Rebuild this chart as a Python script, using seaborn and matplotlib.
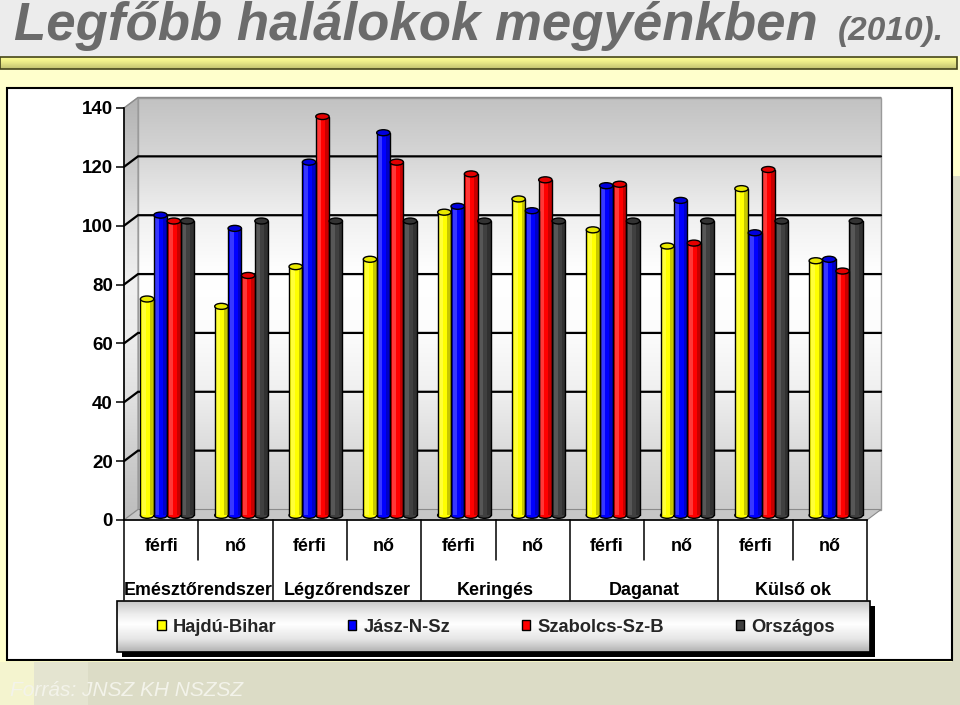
import numpy as np
import pandas as pd
import matplotlib
matplotlib.use("Agg")
import matplotlib.pyplot as plt
import matplotlib.transforms as mtrans
from matplotlib.patches import Rectangle, Ellipse, Polygon
import seaborn as sns

# ---------------- data ----------------
causes = ["Emésztőrendszer", "Légzőrendszer", "Keringés", "Daganat", "Külső ok"]
sexes = ["férfi", "nő"]
series_names = ["Hajdú-Bihar", "Jász-N-Sz", "Szabolcs-Sz-B", "Országos"]
hajdu_bihar = [73.5, 71.0, 84.5, 87.0, 103.0, 107.5, 97.0, 91.5, 111.0, 86.5]
jasz_n_sz = [102.0, 97.5, 120.0, 130.0, 105.0, 103.5, 112.0, 107.0, 96.0, 87.0]
szabolcs_sz_b = [100.0, 81.5, 135.5, 120.0, 116.0, 114.0, 112.5, 92.5, 117.5, 83.0]
orszagos = [100, 100, 100, 100, 100, 100, 100, 100, 100, 100]
y_ticks = [0, 20, 40, 60, 80, 100, 120, 140]
title_main = "Legfőbb halálokok megyénkben"
title_year = "(2010)."
source_note = "Forrás: JNSZ KH NSZSZ"

bar_colors = ["#ffff00", "#0000ff", "#ff0000", "#404040"]
top_colors = ["#e8e800", "#0000dc", "#e40000", "#333333"]

groups = [f"{c} {s}" for c in causes for s in sexes]
value_lists = [hajdu_bihar, jasz_n_sz, szabolcs_sz_b, orszagos]
df = pd.DataFrame({
    "group": [g for v in value_lists for g in groups],
    "series": [n for n, v in zip(series_names, value_lists) for _ in v],
    "value": [x for v in value_lists for x in v],
})

W, H = 960, 705
sns.set_theme(style="white")
plt.rcParams["font.family"] = ["Liberation Sans", "DejaVu Sans"]

fig = plt.figure(figsize=(W / 100, H / 100), dpi=100)

# ---------------- slide background (image pixel coords, y down) ----------------
bg = fig.add_axes([0, 0, 1, 1], zorder=-5)
bg.set_xlim(0, W)
bg.set_ylim(H, 0)
bg.axis("off")
bg.set_autoscale_on(False)
bg.add_patch(Rectangle((0, 0), W, H, fc="#ffffcc", ec="none"))
bg.add_patch(Rectangle((0, 0), W, 56, fc="#ececec", ec="none"))
ybar = np.array([0.98, 0.95, 0.9, 0.84, 0.78])[:, None, None] * np.array([1.0, 1.0, 0.58])[None, None, :]
bg.imshow(np.repeat(ybar, 2, axis=1), extent=(0, 957, 69, 57), aspect="auto",
          interpolation="bilinear", zorder=1)
bg.add_patch(Rectangle((0, 57), 957, 12, fc="none", ec="#45451c", lw=1.2, zorder=2))
bg.add_patch(Rectangle((0, 662), W, 43, fc="#dcdcc6", ec="none"))
bg.add_patch(Rectangle((0, 662), 34, 43, fc="#f4f4cf", ec="none"))
bg.add_patch(Rectangle((34, 662), 54, 43, fc="#e4e4d0", ec="none"))
bg.add_patch(Rectangle((952, 176), 8, 486, fc="#dcdcc6", ec="none"))
bg.add_patch(Rectangle((7, 88), 945, 572, fc="white", ec="black", lw=1.5, zorder=3))

# legend box with shadow and gradient
bg.add_patch(Rectangle((122, 606), 753, 51, fc="black", ec="none", zorder=4))
lg_stops_pos = [0.0, 0.25, 0.45, 0.75, 1.0]
lg_stops_val = [0.78, 0.93, 1.0, 0.9, 0.7]
lg = np.interp(np.linspace(0, 1, 60), lg_stops_pos, lg_stops_val)
lg_img = np.repeat(np.repeat(lg[:, None, None], 3, axis=2), 2, axis=1)
bg.imshow(lg_img, extent=(117, 870, 652, 601), aspect="auto", interpolation="bilinear", zorder=5)
bg.add_patch(Rectangle((117, 601), 753, 51, fc="none", ec="black", lw=1.2, zorder=6))

# ---------------- walls axes (display pixel coords, y up) ----------------
wall = fig.add_axes([0, 0, 1, 1], zorder=-4)
wall.set_xlim(0, W)
wall.set_ylim(0, H)
wall.axis("off")
wall.patch.set_alpha(0)
wall.set_autoscale_on(False)

# ---------------- main axes (front plane) ----------------
ax = fig.add_axes([124 / W, (H - 520) / H, 743 / W, 412 / H], zorder=1)
ax.patch.set_alpha(0)
sns.barplot(data=df, x="group", y="value", hue="series", order=groups,
            hue_order=series_names, palette=bar_colors, saturation=1,
            width=0.72, errorbar=None, linewidth=0, legend=False, ax=ax)
ax.set_xlim(-0.5, 9.5)
ax.set_ylim(0, 140)
ax.set_autoscale_on(False)
ax.set_xlabel("")
ax.set_ylabel("")


def D(x, y, dx=0.0, dy=0.0):
    X, Y = ax.transData.transform((x, y))
    return (X + dx, Y + dy)


BX, BY = 14.0, 10.5

# back wall gradient
bx0, by0 = D(-0.5, 0, BX, BY)
bx1, by1 = D(9.5, 140, BX, BY)
v_rows = np.linspace(140, 0, 200)
w_stops_v = [0, 20, 40, 60, 80, 100, 120, 140]
w_stops_g = [0.80, 0.86, 0.94, 0.99, 1.0, 0.94, 0.84, 0.76]
g = np.interp(v_rows, w_stops_v, w_stops_g)
wall.imshow(np.repeat(np.repeat(g[:, None, None], 3, axis=2), 2, axis=1),
            extent=(bx0, bx1, by0, by1), aspect="auto", interpolation="bilinear", zorder=1)
wall.add_patch(Rectangle((bx0, by0), bx1 - bx0, by1 - by0, fc="none", ec="#9a9a9a", lw=1, zorder=2))

# side wall
side_pts = [D(-0.5, 0), D(-0.5, 140), D(-0.5, 140, BX, BY), D(-0.5, 0, BX, BY)]
side_poly = Polygon(side_pts, closed=True, fc="none", ec="#9a9a9a", lw=0.8, zorder=3)
wall.add_patch(side_poly)
sx = [p[0] for p in side_pts]
sy = [p[1] for p in side_pts]
gs = np.interp(v_rows, w_stops_v, np.array(w_stops_g) - 0.06)
im_side = wall.imshow(np.repeat(np.repeat(gs[:, None, None], 3, axis=2), 2, axis=1),
                      extent=(min(sx), max(sx), min(sy), max(sy)), aspect="auto",
                      interpolation="bilinear", zorder=1)
im_side.set_clip_path(side_poly)

# floor
floor_pts = [D(-0.5, 0), D(9.5, 0), D(9.5, 0, BX, BY), D(-0.5, 0, BX, BY)]
wall.add_patch(Polygon(floor_pts, closed=True, fc="#c6c6c6", ec="#8a8a8a", lw=0.8, zorder=3))

# gridlines on side + back wall
for v in y_ticks[1:]:
    p0, p1, p2 = D(-0.5, v), D(-0.5, v, BX, BY), D(9.5, v, BX, BY)
    col, lw = ("black", 1.6) if v < 140 else ("#8c8c8c", 1.0)
    wall.plot([p0[0], p1[0], p2[0]], [p0[1], p1[1], p2[1]], color=col, lw=lw, zorder=4,
              solid_joinstyle="miter")
wall.set_xlim(0, W)
wall.set_ylim(0, H)

# ---------------- cylinder styling of the seaborn bars ----------------
bar_off = ax.transData + mtrans.ScaledTranslation(6 / 100, 4.7 / 100, fig.dpi_scale_trans)
eh = 6.0 / (412 / 140)
for hi, cont in enumerate(ax.containers):
    for p in cont.patches:
        x0, w, h = p.get_x(), p.get_width(), p.get_height()
        p.set_transform(bar_off)
        p.set_clip_on(False)
        p.set_zorder(2)
        cx = x0 + w / 2
        ax.add_patch(Ellipse((cx, 0), w, eh, transform=bar_off, fc=bar_colors[hi],
                             ec="black", lw=1, zorder=1.9, clip_on=False))
        ax.add_patch(Rectangle((x0 + 0.12 * w, 0), 0.3 * w, h, transform=bar_off,
                               fc="white", alpha=0.22 if hi < 3 else 0.12, lw=0,
                               zorder=2.05, clip_on=False))
        ax.add_patch(Rectangle((x0 + 0.72 * w, 0), 0.28 * w, h, transform=bar_off,
                               fc="black", alpha=0.22, lw=0, zorder=2.05, clip_on=False))
        for xe in (x0, x0 + w):
            ax.plot([xe, xe], [0, h], transform=bar_off, color="black", lw=1,
                    zorder=2.2, clip_on=False)
        ax.add_patch(Ellipse((cx, h), w, eh, transform=bar_off, fc=top_colors[hi],
                             ec="black", lw=1, zorder=2.3, clip_on=False))

# ---------------- front axis, ticks, labels ----------------
for s in ("top", "right"):
    ax.spines[s].set_visible(False)
for s in ("left", "bottom"):
    ax.spines[s].set_visible(True)
    ax.spines[s].set_color("black")
    ax.spines[s].set_linewidth(1.2)
    ax.spines[s].set_zorder(3)
ax.set_yticks(y_ticks)
ax.set_yticklabels([str(t) for t in y_ticks])
ax.tick_params(axis="y", left=True, length=5.8, width=1.1, color="black",
               direction="out", pad=2.2, labelsize=13.5, labelcolor="black")
for t in ax.get_yticklabels():
    t.set_fontweight("bold")
ax.set_xticks([])

blend = mtrans.blended_transform_factory(ax.transData, ax.transAxes)
for i, g_name in enumerate(groups):
    ax.text(i, -0.0655, sexes[i % 2], transform=blend, ha="center", va="center",
            fontsize=12.9, fontweight="bold", color="black")
for k, c in enumerate(causes):
    ax.text(2 * k + 0.5, -0.170, c, transform=blend, ha="center", va="center",
            fontsize=12.9, fontweight="bold", color="black")
for i in range(11):
    xb = i - 0.5
    yend = -0.194 if i % 2 == 0 else -0.097
    ax.plot([xb, xb], [0, yend], transform=blend, color="black", lw=1.1, clip_on=False)

# legend
handles = [Rectangle((0, 0), 1, 1, fc=c, ec="black", lw=1) for c in bar_colors]
ax.legend(handles, series_names, loc="center", bbox_to_anchor=(496 / W, (H - 627) / H),
          bbox_transform=fig.transFigure, ncol=4, frameon=False,
          prop={"weight": "bold", "size": 13.2}, handlelength=0.45, handleheight=0.5,
          handletextpad=0.4, columnspacing=3.9, borderpad=0, borderaxespad=0)

# ---------------- titles ----------------
fig.text(14 / W, 1 - 40 / H, title_main, fontsize=38, fontweight="bold", fontstyle="italic",
         color="#6b6b6b", ha="left", va="baseline")
fig.text(838 / W, 1 - 40 / H, title_year, fontsize=24, fontweight="bold", fontstyle="italic",
         color="#6b6b6b", ha="left", va="baseline")
fig.text(10 / W, 1 - 696 / H, source_note, fontsize=15, fontstyle="italic",
         color="#f3f3ea", ha="left", va="baseline")

fig.savefig("out.png", dpi=100)
